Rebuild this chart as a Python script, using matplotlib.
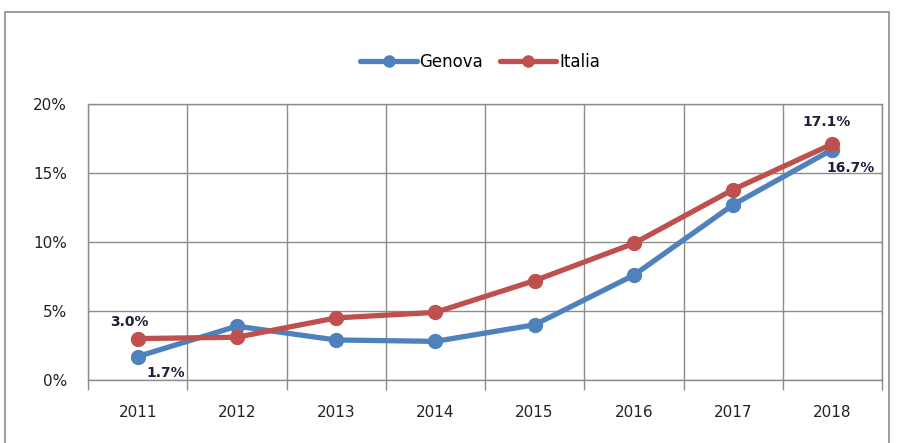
import matplotlib
matplotlib.use("Agg")
import matplotlib.pyplot as plt
from matplotlib.patches import Rectangle
import numpy as np

years = ["2011", "2012", "2013", "2014", "2015", "2016", "2017", "2018"]
genova = [1.7, 3.9, 2.9, 2.8, 4.0, 7.6, 12.7, 16.7]
italia = [3.0, 3.1, 4.5, 4.9, 7.2, 9.9, 13.8, 17.1]
yticks = [0, 5, 10, 15, 20]
ytick_labels = ["0%", "5%", "10%", "15%", "20%"]

blue = "#4F81BD"
red = "#C0504D"
grid_c = "#8c8c8c"

fig = plt.figure(figsize=(8.97, 4.43), dpi=100)
ax = fig.add_axes([88/897, 1-380/443, (882-88)/897, (380-104)/443])

x = np.arange(len(years))
ax.plot(x, genova, color=blue, lw=3.8, marker="o", ms=10, label="Genova", solid_capstyle="round", zorder=3)
ax.plot(x, italia, color=red, lw=3.8, marker="o", ms=10, label="Italia", solid_capstyle="round", zorder=4)

ax.set_xlim(-0.5, len(years)-0.5)
ax.set_ylim(0, 20)
ax.set_yticks(yticks)
ax.set_yticklabels(ytick_labels)
ax.set_xticks(x)
ax.set_xticklabels(years)
ax.set_xticks(np.arange(-0.5, len(years), 1), minor=True)
ax.tick_params(axis="x", which="major", length=0, pad=18, labelsize=11, colors="#222222")
ax.tick_params(axis="x", which="minor", length=7, color=grid_c, width=1)
ax.tick_params(axis="y", length=0, pad=15, labelsize=11, colors="#222222")
ax.grid(True, axis="y", color=grid_c, lw=1)
ax.grid(True, axis="x", which="minor", color=grid_c, lw=1)
for s in ax.spines.values():
    s.set_color(grid_c)
    s.set_linewidth(1)

lab_kw = dict(fontsize=10, fontweight="bold", color="#1f1f3a")
ax.annotate(f"{italia[0]:.1f}%", (x[0], italia[0]), xytext=(-6, 12), textcoords="offset points", ha="center", va="center", **lab_kw)
ax.annotate(f"{genova[0]:.1f}%", (x[0], genova[0]), xytext=(20, -12), textcoords="offset points", ha="center", va="center", **lab_kw)
ax.annotate(f"{italia[-1]:.1f}%", (x[-1], italia[-1]), xytext=(-4, 16), textcoords="offset points", ha="center", va="center", **lab_kw)
ax.annotate(f"{genova[-1]:.1f}%", (x[-1], genova[-1]), xytext=(13, -13), textcoords="offset points", ha="center", va="center", **lab_kw)

fig.legend(loc="center", bbox_to_anchor=(480/897, 1-62/443), ncol=2, frameon=False,
           fontsize=12, handlelength=3.4, handletextpad=0.15, columnspacing=1.0, markerscale=0.8)

fig.add_artist(Rectangle((5/897, -0.1), (889-5)/897, 1.1-12/443, transform=fig.transFigure,
                         fill=False, edgecolor="#8c8c8c", lw=1.2, clip_on=False))

fig.savefig("out.png", dpi=100)
